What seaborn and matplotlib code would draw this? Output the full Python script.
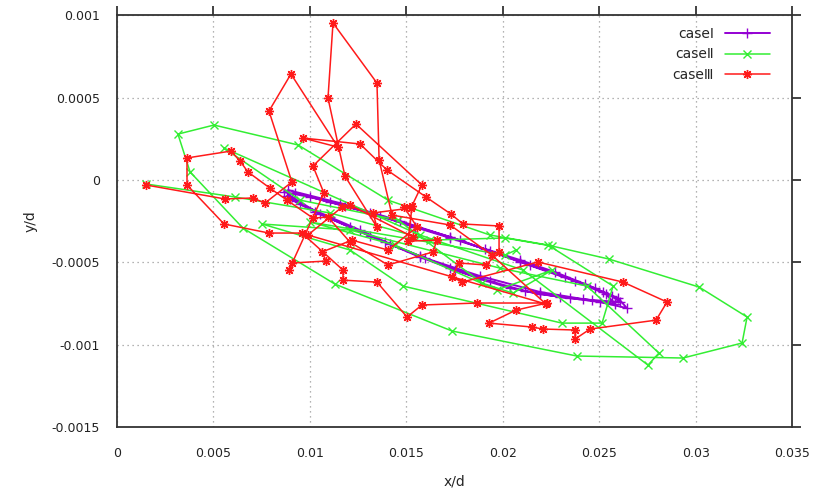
import numpy as np
import matplotlib
matplotlib.use("Agg")
import matplotlib.pyplot as plt
import seaborn as sns

# ---------------- data (x in 1e-3, y in 1e-4 units, scaled below) ----------------
case1_x = np.array([
    8.66, 10.01, 11.82, 13.64, 15.45, 17.27, 19.08, 20.90, 22.71, 24.27, 25.20, 25.98, 26.44,
    25.04, 23.49, 21.93, 20.38, 18.82, 17.27, 15.71, 14.16, 12.60, 11.04, 9.49, 8.81,
    9.23, 11.04, 13.12, 15.19, 17.27, 19.34, 21.41, 23.23, 24.78, 25.67, 26.08,
    24.63, 22.97, 21.16, 19.34, 17.53, 15.71, 13.90, 12.08, 10.27, 8.97,
    8.87, 11.56, 14.67, 17.78, 20.90, 23.75, 25.36, 25.82,
    24.16, 21.93, 18.82, 15.97, 13.12, 10.53, 9.07]) * 1e-3
case1_y = np.array([
    -0.73, -1.03, -1.58, -2.19, -2.86, -3.52, -4.19, -4.86, -5.59, -6.32, -6.80, -7.17, -7.78,
    -7.41, -7.17, -6.93, -6.56, -6.01, -5.35, -4.62, -3.89, -3.04, -2.25, -1.46, -0.97,
    -0.79, -1.34, -2.00, -2.73, -3.46, -4.31, -5.16, -5.89, -6.56, -7.05, -7.41,
    -7.29, -7.11, -6.74, -6.14, -5.47, -4.68, -3.77, -2.86, -1.94, -1.15,
    -0.61, -1.40, -2.49, -3.65, -4.98, -6.14, -6.93, -7.53,
    -7.23, -6.80, -5.83, -4.74, -3.40, -2.07, -1.03]) * 1e-4

case2_x = np.array([
    1.50, 6.12, 11.04, 16.23, 20.12, 22.56, 25.51, 30.18, 32.67, 32.41, 29.35, 23.85,
    17.37, 11.30, 6.53, 3.79, 3.16, 5.03, 9.39, 14.05, 19.34, 22.35, 25.72, 25.15,
    23.07, 14.83, 12.08, 7.52, 12.08, 19.86, 24.37, 28.10, 27.53, 21.05, 15.71, 5.55,
    9.49, 14.57, 18.93, 20.53, 22.56, 19.70, 14.41, 10.01, 20.12, 20.69]) * 1e-3
case2_y = np.array([
    -0.24, -1.03, -2.00, -3.65, -3.52, -4.01, -4.80, -6.50, -8.32, -9.90, -10.81, -10.69,
    -9.17, -6.32, -2.92, 0.49, 2.79, 3.34, 2.13, -1.22, -3.34, -3.95, -6.44, -8.69,
    -8.69, -6.44, -4.25, -2.67, -3.04, -5.35, -6.44, -10.51, -11.24, -5.47, -3.34, 1.94,
    -1.22, -2.43, -6.26, -6.87, -5.47, -6.68, -3.95, -2.55, -4.56, -4.25]) * 1e-4

case3_x = np.array([
    1.50, 5.60, 7.05, 7.67, 9.07, 7.88, 9.02, 11.46, 9.64, 12.60, 14.00, 16.02, 17.32,
    17.94, 19.81, 19.81, 19.13, 17.73, 17.37, 17.89, 21.83, 26.24, 28.52, 27.95, 24.53,
    23.75, 23.75, 22.09, 21.52, 19.29, 20.69, 22.30, 18.67, 15.81, 15.04, 13.48, 11.72,
    11.72, 9.59, 7.88, 5.55, 3.63, 3.63, 5.91, 6.38, 6.79, 7.93, 8.81, 10.16, 10.94,
    12.08, 14.05, 16.38, 16.59, 15.09, 15.30, 14.88, 15.56, 14.05, 12.18, 10.63, 10.84,
    9.07, 8.92, 10.73, 10.16, 12.39, 15.81, 15.24, 13.27, 13.48, 11.82, 10.94, 11.20,
    13.48, 13.59, 14.26, 17.27, 19.44, 22.24, 9.90, 11.67, 12.08, 15.35]) * 1e-3
case3_y = np.array([
    -0.30, -1.15, -1.09, -1.40, -0.12, 4.19, 6.44, 2.00, 2.55, 2.19, 0.61, -1.03, -2.07,
    -2.67, -2.79, -4.37, -5.16, -5.04, -5.89, -6.20, -4.98, -6.20, -7.41, -8.51, -9.05,
    -9.66, -9.11, -9.05, -8.93, -8.69, -7.90, -7.47, -7.47, -7.59, -8.32, -6.20, -6.08,
    -5.47, -3.22, -3.22, -2.67, -0.30, 1.34, 1.76, 1.15, 0.49, -0.49, -1.22, -2.31, -2.25,
    -3.77, -5.16, -4.37, -3.65, -3.71, -1.58, -1.64, -2.86, -4.25, -3.65, -4.37, -4.92,
    -5.04, -5.47, -0.79, 0.85, 3.40, -0.30, -1.70, -2.00, -2.86, 0.24, 4.98, 9.54,
    5.89, 1.22, -2.13, -2.73, -4.56, -7.53, -3.34, -1.64, -1.52, -3.46]) * 1e-4

series_labels = ["case\u2160", "case\u2161", "case\u2162"]
x_ticks = [0, 0.005, 0.01, 0.015, 0.02, 0.025, 0.03, 0.035]
x_tick_labels = ["0", "0.005", "0.01", "0.015", "0.02", "0.025", "0.03", "0.035"]
y_ticks = [-0.0015, -0.001, -0.0005, 0, 0.0005, 0.001]
y_tick_labels = ["-0.0015", "-0.001", "-0.0005", "0", "0.0005", "0.001"]

# ---------------- style ----------------
sns.set_style("white")
plt.rcParams['font.family'] = ['DejaVu Sans']

fig = plt.figure(figsize=(8.13, 5.03), dpi=100)
ax = fig.add_axes([0.1439, 0.1511, 0.8303, 0.8183])

colors = ["#9400D3", "#33EE33", "#FF1A1A"]
markers = ["+", "x", (8, 2, 0)]
msizes = [7, 6, 6.5]
lwidths = [1.4, 1.1, 1.1]
data = [(case1_x, case1_y), (case2_x, case2_y), (case3_x, case3_y)]

for (xs, ys), lab, c, m, ms, lw in zip(data, series_labels, colors, markers, msizes, lwidths):
    sns.lineplot(x=xs, y=ys, sort=False, estimator=None, color=c, marker=m,
                 markersize=ms, markeredgecolor=c, markerfacecolor=c,
                 markeredgewidth=1.0, linewidth=lw, label=lab, ax=ax)

ax.set_xlim(0, 0.035)
ax.set_ylim(-0.0015, 0.001)
ax.set_xticks(x_ticks)
ax.set_xticklabels(x_tick_labels)
ax.set_yticks(y_ticks)
ax.set_yticklabels(y_tick_labels)
ax.tick_params(direction='out', length=6.5, width=1.2, top=True, right=True,
               labelsize=9, colors='#222222')
ax.tick_params(axis='x', pad=8)
ax.tick_params(axis='y', pad=6)
ax.grid(True, linestyle=(0, (1, 3)), color='#9a9a9a', linewidth=0.9)
for s in ax.spines.values():
    s.set_color('#333333')
    s.set_linewidth(1.3)

ax.set_xlabel("x/d", fontsize=10, labelpad=10)
ax.set_ylabel("y/d", fontsize=10, labelpad=10)

leg = ax.legend(loc='upper right', bbox_to_anchor=(0.975, 0.985), frameon=False,
                markerfirst=False, fontsize=10, handlelength=3.2,
                labelspacing=0.45, borderaxespad=0)
for t in leg.get_texts():
    t.set_ha('right')

fig.savefig("out.png", dpi=100)
